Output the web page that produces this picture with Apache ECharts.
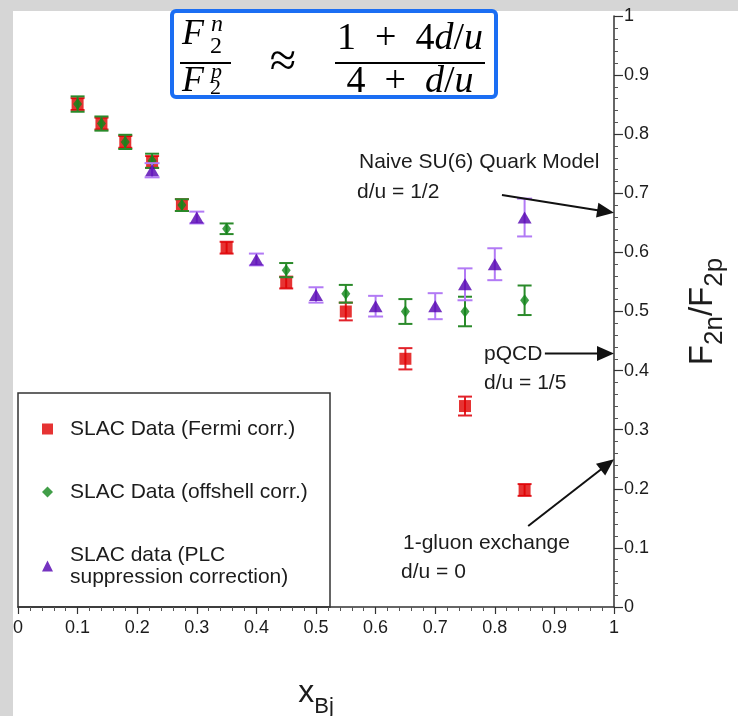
<!DOCTYPE html>
<html><head><meta charset="utf-8">
<script src="https://cdn.jsdelivr.net/npm/echarts@6/dist/echarts.min.js"></script>
<style>
html,body{margin:0;padding:0;background:#d6d6d6;}
#bg{position:absolute;left:13px;top:11px;width:725px;height:705px;background:#fff;}
#c{position:absolute;left:0;top:0;width:738px;height:716px;}
</style>
</head><body><div id="bg"></div><div id="c"></div>
<script>
// ---- data ----
const xFermi = [0.1, 0.14, 0.18, 0.225, 0.275, 0.35, 0.45, 0.55, 0.65, 0.75, 0.85];
const yFermi = [0.851, 0.818, 0.787, 0.753, 0.680, 0.608, 0.549, 0.500, 0.420, 0.340, 0.198];
const eFermi = [0.010, 0.010, 0.010, 0.010, 0.010, 0.010, 0.010, 0.015, 0.018, 0.016, 0.010];

const xOff = [0.1, 0.14, 0.18, 0.225, 0.275, 0.35, 0.45, 0.55, 0.65, 0.75, 0.85];
const yOff = [0.851, 0.818, 0.787, 0.755, 0.680, 0.640, 0.570, 0.530, 0.500, 0.500, 0.519];
const eOff = [0.013, 0.012, 0.012, 0.012, 0.010, 0.009, 0.012, 0.015, 0.021, 0.025, 0.025];

const xPlc = [0.225, 0.3, 0.4, 0.5, 0.6, 0.7, 0.75, 0.8, 0.85];
const yPlc = [0.739, 0.659, 0.588, 0.528, 0.509, 0.509, 0.546, 0.580, 0.659];
const ePlc = [0.012, 0.010, 0.010, 0.013, 0.0175, 0.022, 0.027, 0.027, 0.032];

const seriesNames = ['SLAC Data (Fermi corr.)', 'SLAC Data (offshell corr.)', 'SLAC data (PLC\nsuppression correction)'];

// theory arrows: [xStart, yStart, xEnd, yEnd]
const arrowSU6 = [0.812, 0.697, 1.0, 0.667];
const arrowPQCD = [0.884, 0.429, 1.0, 0.429];
const arrowGluon = [0.856, 0.137, 1.0, 0.250];

const axisMin = 0, axisMax = 1, axisStep = 0.1;

// ---- helpers ----
function pts(xs, ys, es) { return xs.map((x, i) => es ? [x, ys[i], es[i]] : [x, ys[i]]); }

function errRender(color, capW) {
  return function (params, api) {
    const x = api.value(0), y = api.value(1), e = api.value(2);
    const p0 = api.coord([x, y - e]), p1 = api.coord([x, y + e]);
    const st = { stroke: color, lineWidth: 2 };
    return { type: 'group', children: [
      { type: 'line', shape: { x1: p0[0], y1: p0[1], x2: p1[0], y2: p1[1] }, style: st },
      { type: 'line', shape: { x1: p0[0] - capW / 2, y1: p0[1], x2: p0[0] + capW / 2, y2: p0[1] }, style: st },
      { type: 'line', shape: { x1: p1[0] - capW / 2, y1: p1[1], x2: p1[0] + capW / 2, y2: p1[1] }, style: st }
    ]};
  };
}

function arrowRender(params, api) {
  const p0 = api.coord([api.value(0), api.value(1)]);
  const p1 = api.coord([api.value(2), api.value(3)]);
  const dx = p1[0] - p0[0], dy = p1[1] - p0[1];
  const L = Math.hypot(dx, dy), ux = dx / L, uy = dy / L;
  const hl = 17, hw = 7.5;
  const bx = p1[0] - ux * hl, by = p1[1] - uy * hl;
  return { type: 'group', children: [
    { type: 'line', shape: { x1: p0[0], y1: p0[1], x2: bx + ux * 2, y2: by + uy * 2 }, style: { stroke: '#111', lineWidth: 2 } },
    { type: 'polygon', shape: { points: [[p1[0], p1[1]], [bx - uy * hw, by + ux * hw], [bx + uy * hw, by - ux * hw]] }, style: { fill: '#111' } }
  ]};
}

const FONT = 'Liberation Sans';
const SERIF = 'Liberation Serif';
const txtColor = '#1c1c1c';

function note(text, x, y) {
  return { type: 'text', left: x, top: y - 10, style: { text: text, font: '21px "' + FONT + '"', fill: txtColor } };
}
function ftext(text, x, y, size, italic, align) {
  return { type: 'text', x: x, y: y, style: { text: text, font: (italic ? 'italic ' : '') + size + 'px "' + SERIF + '"', fill: '#000', align: align || 'left', verticalAlign: 'middle' } };
}

const chart = echarts.init(document.getElementById('c'));
const option = {
  backgroundColor: 'transparent',
  animation: false,
  grid: { left: 18, right: 124, top: 16, bottom: 109, containLabel: false, outerBoundsMode: 'none' },
  xAxis: {
    type: 'value', min: axisMin, max: axisMax, interval: axisStep,
    axisLine: { show: true, onZero: false, lineStyle: { color: '#333', width: 1.5 } },
    axisTick: { show: true, length: 7, lineStyle: { color: '#333', width: 1.2 } },
    minorTick: { show: true, splitNumber: 5, length: 4, lineStyle: { color: '#555', width: 1 } },
    splitLine: { show: false },
    axisLabel: { fontFamily: FONT, fontSize: 18, color: txtColor, margin: 12, formatter: v => String(Math.round(v * 10) / 10) },
    name: '{m|x}{s|Bj}', nameLocation: 'middle', nameGap: 70,
    nameTextStyle: { rich: {
      m: { fontFamily: FONT, fontSize: 32, color: txtColor, verticalAlign: 'bottom', padding: [0, 0, 9, 0] },
      s: { fontFamily: FONT, fontSize: 22, color: txtColor, verticalAlign: 'bottom' }
    } }
  },
  yAxis: {
    type: 'value', position: 'right', min: axisMin, max: axisMax, interval: axisStep,
    axisLine: { show: true, onZero: false, lineStyle: { color: '#333', width: 1.5 } },
    axisTick: { show: true, length: 9, lineStyle: { color: '#333', width: 1.2 } },
    minorTick: { show: true, splitNumber: 5, length: 4, lineStyle: { color: '#555', width: 1 } },
    splitLine: { show: false },
    axisLabel: { fontFamily: FONT, fontSize: 18, color: txtColor, margin: 10, formatter: v => String(Math.round(v * 10) / 10) },
    name: '{m|F}{s|2n}{m|/F}{s|2p}', nameLocation: 'middle', nameRotate: 90, nameGap: 72,
    nameTextStyle: { rich: {
      m: { fontFamily: FONT, fontSize: 33, color: txtColor, verticalAlign: 'bottom', padding: [0, 0, 9, 0] },
      s: { fontFamily: FONT, fontSize: 26, color: txtColor, verticalAlign: 'bottom' }
    } }
  },
  legend: {
    orient: 'vertical', left: 37, top: 413, itemGap: 41, itemWidth: 11, itemHeight: 11,
    selectedMode: false,
    textStyle: { fontFamily: FONT, fontSize: 21, lineHeight: 22, color: txtColor, padding: [0, 0, 0, 12] },
    data: [
      { name: seriesNames[0], icon: 'rect' },
      { name: seriesNames[1], icon: 'diamond' },
      { name: seriesNames[2], icon: 'triangle' }
    ]
  },
  graphic: [
    { type: 'rect', shape: { x: 18, y: 393, width: 312, height: 214 }, style: { fill: 'none', stroke: '#333', lineWidth: 1.5 }, z: 0 },
    // formula box
    { type: 'rect', shape: { x: 172, y: 11, width: 324, height: 86, r: 4 }, style: { fill: '#fff', stroke: '#1b6ef3', lineWidth: 4 } },
    ftext('F', 182, 35, 36, true),
    ftext('n', 211, 25, 24, true),
    ftext('2', 210, 47, 24, false),
    { type: 'line', shape: { x1: 180, y1: 63, x2: 231, y2: 63 }, style: { stroke: '#000', lineWidth: 2 } },
    ftext('F', 182, 82, 36, true),
    ftext('p', 211, 72, 22, true),
    ftext('2', 210, 88, 22, false),
    ftext('\u2248', 283, 63, 48, false, 'center'),
    { type: 'text', x: 410, y: 39, style: { text: '{n|1  +  4}{i|d}{n|/}{i|u}', align: 'center', verticalAlign: 'middle',
      rich: { n: { font: '38px "' + SERIF + '"', fill: '#000' }, i: { font: 'italic 38px "' + SERIF + '"', fill: '#000' } } } },
    { type: 'line', shape: { x1: 335, y1: 63, x2: 485, y2: 63 }, style: { stroke: '#000', lineWidth: 2 } },
    { type: 'text', x: 410, y: 82, style: { text: '{n|4  +  }{i|d}{n|/}{i|u}', align: 'center', verticalAlign: 'middle',
      rich: { n: { font: '38px "' + SERIF + '"', fill: '#000' }, i: { font: 'italic 38px "' + SERIF + '"', fill: '#000' } } } },
    // annotations
    note('Naive SU(6) Quark Model', 359, 162),
    note('d/u = 1/2', 357, 192),
    note('pQCD', 484, 354),
    note('d/u = 1/5', 484, 383),
    note('1-gluon exchange', 403, 543),
    note('d/u = 0', 401, 572)
  ],
  series: [
    { type: 'custom', name: 'errFermi', renderItem: errRender('#e2222a', 14), data: pts(xFermi, yFermi, eFermi), encode: { x: 0, y: 1 }, z: 2 },
    { type: 'scatter', name: seriesNames[0], symbol: 'rect', symbolSize: [12, 12], itemStyle: { color: '#e00000' }, data: pts(xFermi, yFermi), z: 3 },
    { type: 'custom', name: 'errOff', renderItem: errRender('#2a8a2a', 14), data: pts(xOff, yOff, eOff), encode: { x: 0, y: 1 }, z: 4 },
    { type: 'scatter', name: seriesNames[1], symbol: 'diamond', symbolSize: [9, 12], itemStyle: { color: '#12861a' }, data: pts(xOff, yOff), z: 5 },
    { type: 'custom', name: 'errPlc', renderItem: errRender('#b27af5', 15), data: pts(xPlc, yPlc, ePlc), encode: { x: 0, y: 1 }, z: 6 },
    { type: 'scatter', name: seriesNames[2], symbol: 'triangle', symbolSize: [14, 12], itemStyle: { color: '#5200b0' }, data: pts(xPlc, yPlc), z: 7 },
    { type: 'custom', name: 'arrows', renderItem: arrowRender, data: [arrowSU6, arrowPQCD, arrowGluon], encode: { x: [0, 2], y: [1, 3] }, z: 8, silent: true }
  ]
};
chart.setOption(option);
</script>
</body></html>
